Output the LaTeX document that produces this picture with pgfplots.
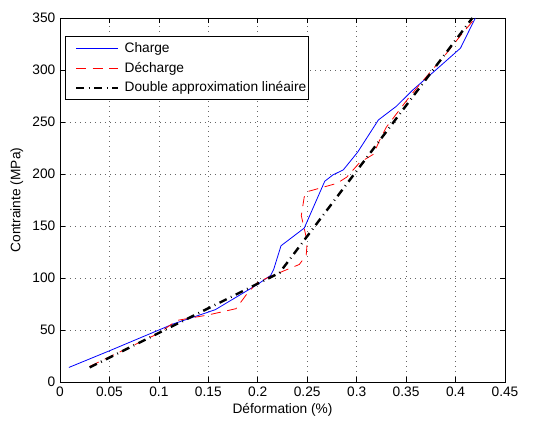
\documentclass[border=0pt]{standalone}
\usepackage{fontspec}
\setmainfont{Liberation Sans}
\usepackage{pgfplots}
\pgfplotsset{compat=1.18}
\begin{document}
\begin{tikzpicture}
\path[use as bounding box] (0pt,0pt) rectangle (408pt,316.5pt);
\begin{axis}[
  at={(45pt,30pt)}, anchor=south west,
  scale only axis, width=333.75pt, height=273pt,
  xmin=0, xmax=0.45, ymin=0, ymax=350,
  xtick={0,0.05,0.1,0.15,0.2,0.25,0.3,0.35,0.4,0.45},
  xticklabels={0,0.05,0.1,0.15,0.2,0.25,0.3,0.35,0.4,0.45},
  scaled x ticks=false,
  ytick={0,50,100,150,200,250,300,350},
  tick align=inside, tick pos=both, major tick length=4pt,
  grid=major,
  grid style={dash pattern=on 0.75pt off 3pt, black!60, line width=0.5pt},
  axis line style={line width=0.6pt},
  tick style={black, line width=0.5pt},
  ticklabel style={font=\fontsize{10.3}{12}\selectfont},
  /pgf/number format/assume math mode=true,
  xlabel={Déformation (\%)}, ylabel={Contrainte (MPa)},
  label style={font=\fontsize{10.3}{12}\selectfont},
  xlabel style={yshift=2pt},
  legend cell align=left,
  legend style={at={(0,1)}, anchor=north west, xshift=3.75pt, yshift=-13.5pt,
    draw=black, line width=0.8pt, font=\fontsize{10.3}{12}\selectfont,
    inner xsep=1.5pt, inner ysep=1.8pt, row sep=0pt,
    nodes={inner xsep=0.5pt, inner ysep=2.8pt}},
  legend image code/.code={\path (0pt,0pt) (40.5pt,0pt); \draw[#1] (5.5pt,0pt) -- (37pt,0pt);},
]
\addplot[color=blue, line width=0.6pt] coordinates {
(0.009,14) (0.05,30) (0.1,50) (0.115,56) (0.157,69.5) (0.2,94) (0.213,102.5)
(0.216,108) (0.2235,131) (0.247,148) (0.2677,193) (0.2758,199) (0.2865,204)
(0.301,221) (0.322,252) (0.34,265) (0.357,281) (0.38,300) (0.405,321) (0.42,350)
};
\addlegendentry{Charge}
\addplot[color=red, line width=0.6pt, dash pattern=on 7.5pt off 5pt] coordinates {
(0.03,15) (0.1,47) (0.115,57) (0.12,59.5) (0.15,64.5) (0.178,70.5) (0.19,86)
(0.2,96) (0.214,102) (0.242,113) (0.249,122) (0.25,135) (0.244,160) (0.247,178)
(0.25,183) (0.265,187) (0.28,191) (0.29,197) (0.303,211) (0.317,219) (0.323,232)
(0.33,245) (0.338,255) (0.354,275) (0.37,293) (0.39,315) (0.405,333) (0.42,350)
};
\addlegendentry{Décharge}
\addplot[color=black, line width=1.8pt, dash pattern=on 6pt off 3.5pt on 0.6pt off 3.5pt] coordinates {
(0.03,14) (0.222,105) (0.417,350)
};
\addlegendentry{Double approximation linéaire}
\end{axis}
\end{tikzpicture}
\end{document}
